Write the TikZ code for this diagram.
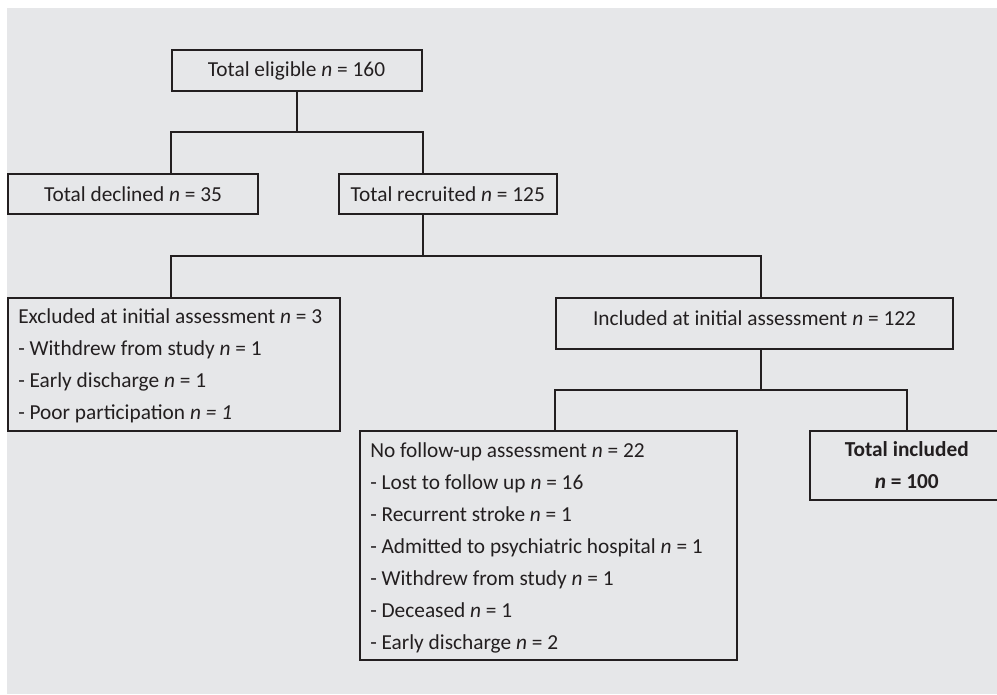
\documentclass[tikz,border=0pt]{standalone}
\usepackage{fontspec}
\setmainfont{Carlito}
\definecolor{bggray}{HTML}{E6E7E9}
\definecolor{ink}{HTML}{231F20}
\tikzset{
  box/.style={draw=ink, line width=1.5pt, inner sep=0pt, text=ink, font=\fontsize{16}{24}\selectfont},
  conn/.style={draw=ink, line width=1.5pt},
  lbl/.style={text=ink, inner sep=0pt, font=\fontsize{16}{24}\selectfont, align=center},
  listlbl/.style={lbl, align=left, anchor=west}
}
\begin{document}
\begin{tikzpicture}[x=0.75pt,y=-0.75pt]
\useasboundingbox (0,0) rectangle (997,694);
\clip (0,0) rectangle (997,694);
\fill[bggray] (7,8) rectangle (997,694);

\node[box, minimum width=187.5pt, minimum height=30.75pt] (eligible) at (296.5,70.5) {Total eligible \textit{n} = 160};
\node[box, minimum width=187.5pt, minimum height=30pt] (declined) at (133,194) {Total declined \textit{n} = 35};
\node[box, minimum width=163.125pt, minimum height=30pt] (recruited) at (447.75,194) {Total recruited \textit{n} = 125};

\node[box, minimum width=249pt, minimum height=100.125pt] (excluded) at (174,364.25) {};
\node[listlbl] (excludedtext) at (18,365.5) {Excluded at initial assessment \textit{n} = 3\\
- Withdrew from study \textit{n} = 1\\
- Early discharge \textit{n} = 1\\
- Poor participation \textit{n = 1}};

\node[box, minimum width=297.75pt, minimum height=38.25pt] (included) at (754.5,323) {};
\node[lbl] (includedtext) at (754.5,318) {Included at initial assessment \textit{n} = 122};

\node[box, minimum width=283.125pt, minimum height=171.75pt] (nofollow) at (548.25,545.5) {};
\node[listlbl] (nofollowtext) at (370,548) {No follow-up assessment \textit{n} = 22\\
- Lost to follow up \textit{n} = 16\\
- Recurrent stroke \textit{n} = 1\\
- Admitted to psychiatric hospital \textit{n} = 1\\
- Withdrew from study \textit{n} = 1\\
- Deceased \textit{n} = 1\\
- Early discharge \textit{n} = 2};

\node[box, align=center, minimum width=145.875pt, minimum height=51.75pt] (totalinc) at (906.75,465.5) {\textbf{Total included}\\ \textbf{\textit{n} = 100}};

\coordinate (h1) at (0,132);
\coordinate (h2) at (0,256);
\coordinate (h3) at (0,389.5);
\coordinate (v2) at (761,0);

\draw[conn] (eligible.south) -- (eligible.south |- h1);
\draw[conn] (declined.north -| eligible.west) -- (eligible.west |- h1) -- (eligible.east |- h1) -- (recruited.north -| eligible.east);
\draw[conn] (recruited.south -| eligible.east) -- (eligible.east |- h2);
\draw[conn] (excluded.north -| eligible.west) -- (eligible.west |- h2) -- (v2 |- h2) -- (included.north -| v2);
\draw[conn] (included.south -| v2) -- (v2 |- h3);
\draw[conn] (nofollow.north -| included.west) -- (included.west |- h3) -- (totalinc.north |- h3) -- (totalinc.north);
\end{tikzpicture}
\end{document}
